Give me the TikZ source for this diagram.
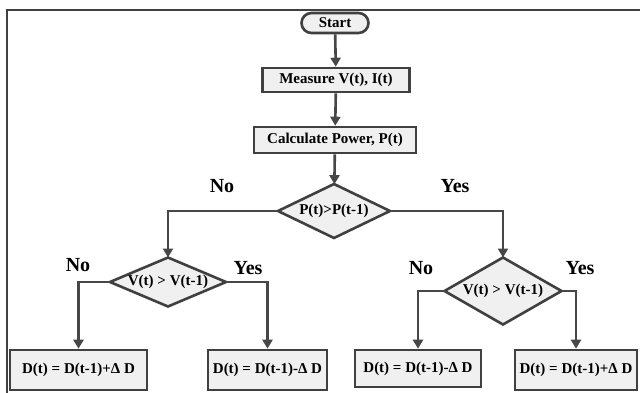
\documentclass[tikz,border=0pt]{standalone}
\usepackage{fontspec}
\setmainfont{Liberation Serif}
\usetikzlibrary{shapes.geometric,arrows.meta}
\begin{document}
\begin{tikzpicture}[x=1pt,y=-1pt,
  bx/.style={draw=black!75, line width=2.6pt, fill=gray!12, inner sep=0pt, font=\bfseries\fontsize{15}{17}\selectfont},
  dbox/.style={bx, font=\bfseries\fontsize{15}{17}\selectfont},
  dec/.style={diamond, draw=black!75, line width=2.6pt, fill=gray!12, inner sep=0pt, outer sep=0pt, font=\bfseries\fontsize{15}{17}\selectfont},
  lbl/.style={font=\bfseries\fontsize{20}{22}\selectfont},
  conn/.style={draw=black!72, line width=2.6pt, -{Triangle[width=10pt,length=9pt]}}]
\useasboundingbox (0,0) rectangle (640,393);
\fill[white] (0,0) rectangle (640,393);
\draw[black!75, line width=1.6pt] (7,393) -- (7,10) -- (640,10);

\node[bx, rounded corners=10pt, minimum width=67pt, minimum height=20pt] (start) at (335,23) {Start};
\node[bx, minimum width=147pt, minimum height=24pt] (meas) at (336,80) {Measure V(t), I(t)};
\node[bx, minimum width=162pt, minimum height=26pt] (calc) at (335,140) {Calculate Power, P(t)};
\node[dec, aspect=2.07, minimum width=112pt, minimum height=54pt] (d1) at (334,211) {P(t)>P(t-1)};
\node[dec, aspect=2.37, minimum width=116pt, minimum height=49pt] (d2) at (168,282) {V(t) > V(t-1)};
\node[dec, aspect=1.75, minimum width=117pt, minimum height=67pt] (d3) at (503,291) {V(t) > V(t-1)};
\node[dbox, minimum width=137pt, minimum height=40pt] (b1) at (78.5,370) {D(t) = D(t-1)+Δ D};
\node[dbox, minimum width=119pt, minimum height=40pt] (b2) at (267.5,370) {D(t) = D(t-1)-Δ D};
\node[dbox, minimum width=126pt, minimum height=37pt] (b3) at (418,368.5) {D(t) = D(t-1)-Δ D};
\node[dbox, minimum width=122pt, minimum height=40pt] (b4) at (576,370) {D(t) = D(t-1)+Δ D};

\node[lbl] (l1) at (222,186) {No};
\node[lbl] (l2) at (455,186) {Yes};
\node[lbl] (l3) at (78,265) {No};
\node[lbl] (l4) at (248,268) {Yes};
\node[lbl] (l5) at (421,268) {No};
\node[lbl] (l6) at (580,268) {Yes};

\draw[conn] (start) -- (meas);
\draw[conn] (meas) -- (calc);
\draw[conn] (calc) -- (d1);
\draw[conn] (d1.west) -| (d2.north);
\draw[conn] (d1.east) -| (d3.north);
\draw[conn] (d2.west) -| (b1.north);
\draw[conn] (d2.east) -| (b2.north);
\draw[conn] (d3.west) -| (b3.north);
\draw[conn] (d3.east) -| (b4.north);
\end{tikzpicture}
\end{document}
